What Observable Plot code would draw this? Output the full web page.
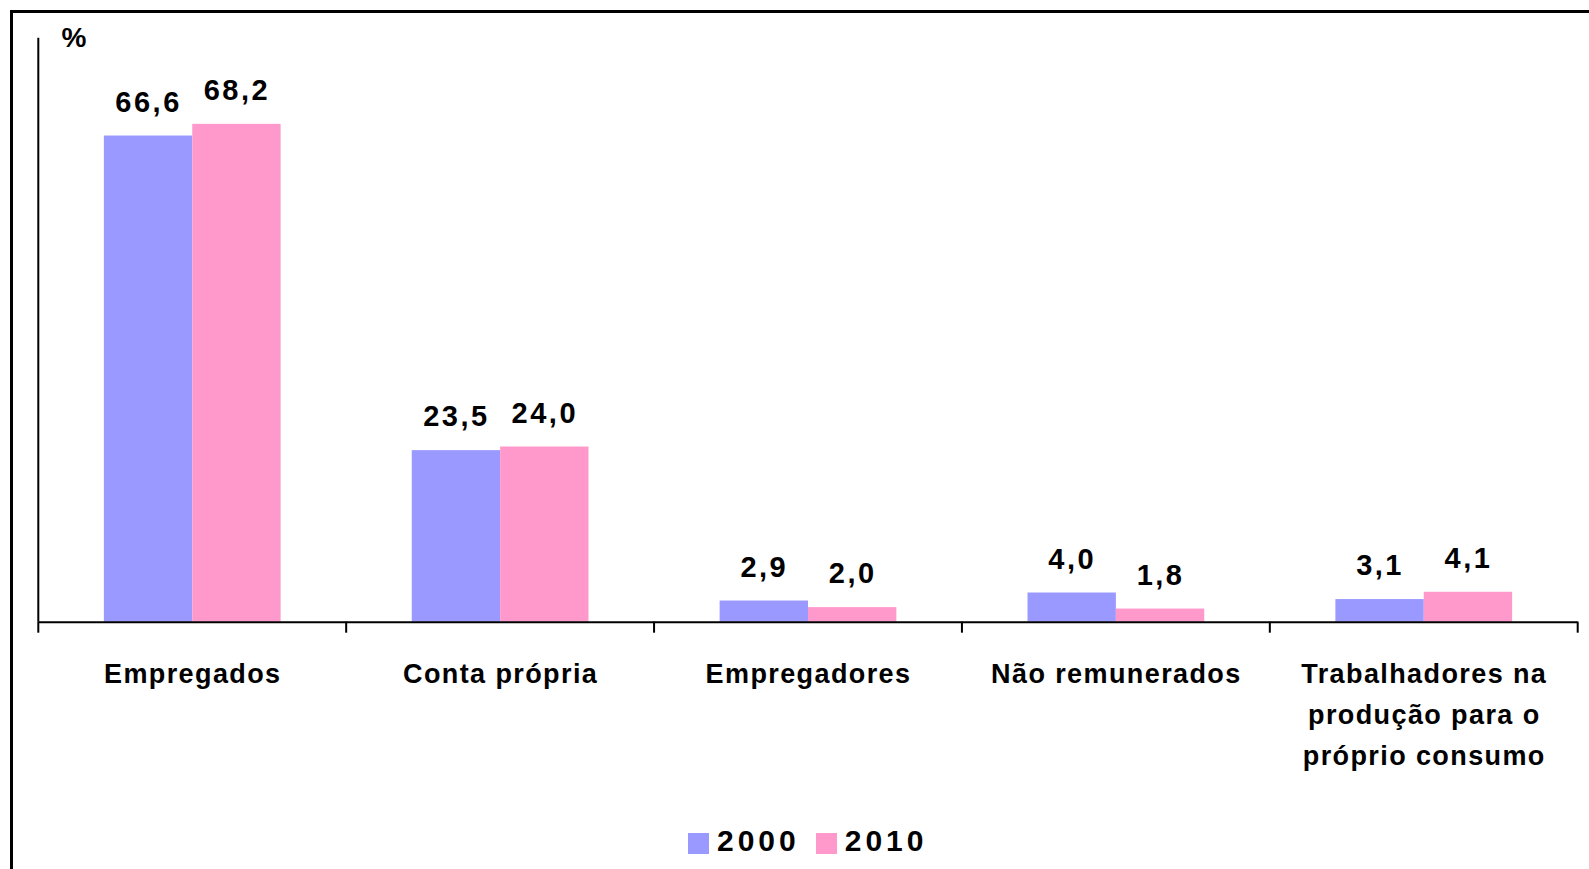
<!DOCTYPE html>
<html>
<head>
<meta charset="utf-8">
<script src="https://cdn.jsdelivr.net/npm/d3@7"></script>
<script src="https://cdn.jsdelivr.net/npm/@observablehq/plot@0.6"></script>
<style>
  html, body { margin: 0; padding: 0; background: #fff; overflow: hidden; }
  #wrap { position: relative; width: 1589px; height: 869px; font-family: "Liberation Sans", Arial, sans-serif; }
  #frame { position: absolute; left: 10px; top: 10px; width: 1700px; height: 1000px; border: 3px solid #000; box-sizing: border-box; pointer-events: none; }
  #chart { position: absolute; left: 0; top: 0; }
  #legend { position: absolute; left: 688px; top: 824px; display: flex; align-items: center; font-weight: bold; font-size: 30px; letter-spacing: 4px; color: #000; }
  #legend .sw { width: 21px; height: 21px; margin-right: 8px; margin-top: 4px; }
  #legend .lab { margin-right: 16px; }
  g[aria-label="text"] text { letter-spacing: 2.5px; }
  g[aria-label="x-axis tick label"] text { letter-spacing: 1.4px; }
</style>
</head>
<body>
<div id="wrap">
  <div id="chart"></div>
  <div id="legend"></div>
  <div id="frame"></div>
</div>
<script>
const categories = ["Empregados", "Conta própria", "Empregadores", "Não remunerados", "Trabalhadores na\nprodução para o\npróprio consumo"];
const years = ["2000", "2010"];
const values2000 = [66.6, 23.5, 2.9, 4.0, 3.1];
const values2010 = [68.2, 24.0, 2.0, 1.8, 4.1];
const colors = ["#9999FF", "#FF99CC"];
const yDomain = [0, 80];
const unitLabel = ["%"];

const W = 1589, H = 800;
const mL = 38.3, mR = 11.3, mT = 37.7, mB = H - 621.7;
const bw = (W - mL - mR) / categories.length;
const inner = d3.scaleBand().domain(years).range([0, bw]).paddingInner(0).paddingOuter(0.742);

const seriesValues = [values2000, values2010];
const rows = years.map((yr, k) => categories.map((c, i) => ({cat: c, year: yr, value: seriesValues[k][i]})));
const fmt = v => v.toFixed(1).replace(".", ",");

function decor(index, scales) {
  const {x, y} = scales;
  const g = d3.create("svg:g").attr("stroke", "#000").attr("stroke-width", 2).attr("fill", "none");
  const b = x.bandwidth();
  const edges = categories.map(c => x(c)).concat([x(categories[categories.length - 1]) + b]);
  const y0 = y(0);
  g.selectAll("line.t").data(edges).join("line").attr("class", "t")
    .attr("x1", d => d).attr("x2", d => d).attr("y1", y0).attr("y2", y0 + 11);
  g.append("line").attr("x1", edges[0]).attr("x2", edges[0]).attr("y1", y(yDomain[1])).attr("y2", y0);
  return g.node();
}

const barMarks = years.map((yr, k) => {
  const left = inner(yr);
  const right = bw - inner(yr) - inner.bandwidth();
  return Plot.barY(rows[k], {x: "cat", y: "value", fill: colors[k], insetLeft: left, insetRight: right});
});
const textMarks = years.map((yr, k) => {
  const dx = inner(yr) + inner.bandwidth() / 2 - bw / 2;
  return Plot.text(rows[k], {x: "cat", y: "value", text: d => fmt(d.value), dx, dy: -45, lineAnchor: "top", fontSize: 29, fontWeight: "bold", fill: "#000"});
});

const chart = Plot.plot({
  width: W, height: H,
  marginLeft: mL, marginRight: mR, marginTop: mT, marginBottom: mB,
  style: {background: "transparent", fontFamily: "'Liberation Sans', Arial, sans-serif", color: "#000"},
  x: {type: "band", domain: categories, padding: 0, round: false, axis: null},
  y: {domain: yDomain, axis: null},
  marks: [
    ...barMarks,
    Plot.ruleY([0], {stroke: "#000", strokeWidth: 2}),
    decor,
    ...textMarks,
    Plot.axisX({tickSize: 0, tickPadding: 32, fontSize: 27, fontWeight: "bold", lineHeight: 1.52, label: null, tickFormat: d => d, fill: "#000"}),
    Plot.text(unitLabel, {frameAnchor: "top-left", text: d => d, textAnchor: "start", lineAnchor: "top", dx: 22.7, dy: -11, fontSize: 28, fontWeight: "bold", fill: "#000"})
  ]
});
document.getElementById("chart").appendChild(chart);

const legend = d3.select("#legend");
years.forEach((yr, k) => {
  legend.append("div").attr("class", "sw").style("background", colors[k]);
  legend.append("div").attr("class", "lab").text(yr);
});
</script>
</body>
</html>
